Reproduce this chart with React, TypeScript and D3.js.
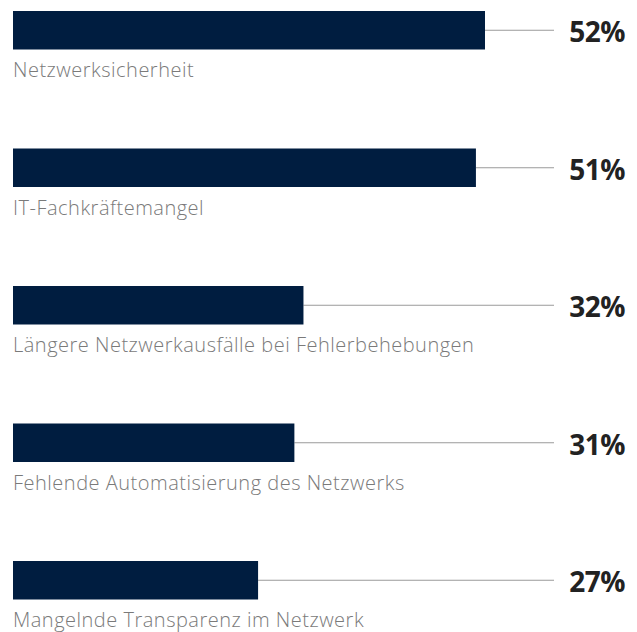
import React from "react";
import * as d3 from "d3";

const categories = [
  "Netzwerksicherheit",
  "IT-Fachkräftemangel",
  "Längere Netzwerkausfälle bei Fehlerbehebungen",
  "Fehlende Automatisierung des Netzwerks",
  "Mangelnde Transparenz im Netzwerk",
];
const values = [52, 51, 32, 31, 27];
const valueLabels = ["52%", "51%", "32%", "31%", "27%"];

export default function App() {
  const width = 637;
  const height = 632;
  const barLeft = 13;
  const barHeight = 38.5;
  const lineEnd = 554;

  const x = d3.scaleLinear().domain([0, 52]).range([barLeft, 485]);
  const y = d3
    .scaleBand()
    .domain(categories)
    .range([11, 11 + 137.5 * categories.length]);

  return (
    <div style={{ position: "absolute", left: 0, top: 0 }}>
      <svg
        width={width}
        height={height}
        style={{ display: "block", fontFamily: "'Open Sans', sans-serif" }}
      >
        <rect width={width} height={height} fill="#ffffff" />
        {categories.map((c, i) => {
          const top = y(c) as number;
          return (
            <g key={c}>
              <line
                x1={x(values[i])}
                x2={lineEnd}
                y1={top + barHeight / 2}
                y2={top + barHeight / 2}
                stroke="#9a9a9a"
                strokeWidth={1}
              />
              <rect
                x={barLeft}
                y={top}
                width={x(values[i]) - barLeft}
                height={barHeight}
                fill="#001d40"
              />
              <text
                x={625}
                y={top + 31}
                textAnchor="end"
                fontSize={28}
                fontWeight={700}
                fill="#222222"
                letterSpacing={-0.5}
              >
                {valueLabels[i]}
              </text>
              <text
                x={barLeft}
                y={top + 66}
                fontSize={20}
                fontWeight={300}
                letterSpacing={0.5}
                fill="#7a7a7a"
              >
                {c}
              </text>
            </g>
          );
        })}
      </svg>
    </div>
  );
}
